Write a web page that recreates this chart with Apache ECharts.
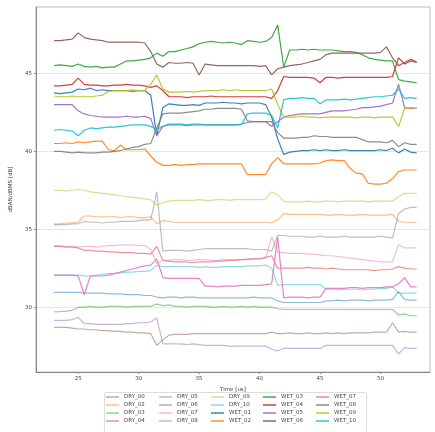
<!DOCTYPE html>
<html><head><meta charset="utf-8">
<script src="https://cdn.jsdelivr.net/npm/echarts@6/dist/echarts.min.js"></script>
<style>html,body{margin:0;padding:0;background:#fff}#c{width:435px;height:432px}</style>
</head><body><div id="c"></div>
<script>
const times = [23,23.5,24,24.5,25,25.5,26,26.5,27,27.5,28,28.5,29,29.5,30,30.5,31,31.5,32,32.5,33,33.5,34,34.5,35,35.5,36,36.5,37,37.5,38,38.5,39,39.5,40,40.5,41,41.5,42,42.5,43,43.5,44,44.5,45,45.5,46,46.5,47,47.5,48,48.5,49,49.5,50,50.5,51,51.5,52,52.5,53];

const DRY_00 = [30.95,30.95,30.95,30.95,30.95,30.9,30.9,30.9,30.9,30.85, 30.85,30.85,30.8,30.8,30.8,30.75,30.75,30.65,30.6,30.65, 30.65,30.6,30.65,30.65,30.6,30.6,30.6,30.6,30.6,30.6, 30.6,30.6,30.6,30.65,30.6,30.6,30.6,30.4,30.3,30.3, 30.3,30.3,30.3,30.3,30.3,30.4,30.4,30.45,30.4,30.45, 30.45,30.45,30.4,30.45,30.45,30.45,30.5,31.0,30.5,30.45, 30.45];
const DRY_02 = [35.35,35.35,35.4,35.4,35.45,35.85,35.85,35.8,35.8,35.8, 35.8,35.75,35.8,35.8,35.75,35.75,35.8,35.35,35.55,35.5, 35.45,35.45,35.45,35.45,35.45,35.45,35.45,35.45,35.45,35.45, 35.45,35.45,35.45,35.45,35.45,35.45,35.4,35.6,36.0,35.95, 35.95,35.95,35.95,35.95,35.95,35.9,35.9,35.95,35.9,35.9, 35.9,35.95,35.9,35.9,35.9,35.9,35.95,35.5,35.45,35.45, 35.45];
const DRY_03 = [29.7,29.72,29.75,29.8,30.0,30.0,30.05,30.0,30.0,30.05, 30.05,30.05,30.0,30.05,30.05,30.05,30.05,30.2,30.1,30.15, 30.05,30.05,30.0,30.05,30.05,30.05,30.0,30.0,30.05,30.0, 30.0,30.05,30.0,30.05,30.0,30.0,30.0,29.9,29.85,29.85, 29.85,29.85,29.85,29.85,29.85,29.85,29.85,29.85,29.85,29.85, 29.85,29.85,29.85,29.85,29.85,29.85,29.85,29.5,29.55,29.45, 29.45];
const DRY_04 = [33.9,33.9,33.85,33.85,33.8,33.65,33.65,33.6,33.6,33.55, 33.55,33.5,33.5,33.5,33.45,33.45,33.4,33.9,33.0,32.95, 32.9,32.9,32.9,32.85,32.9,32.9,32.9,32.95,32.95,33.0, 33.0,33.05,33.05,33.1,33.1,33.2,33.3,32.5,32.5,32.5, 32.5,32.5,32.55,32.5,32.5,32.45,32.5,32.45,32.4,32.4, 32.4,32.4,32.4,32.35,32.4,32.4,32.45,32.6,32.5,32.45, 32.45];
const DRY_05 = [29.15,29.15,29.15,29.2,29.35,28.95,28.95,28.9,28.9,28.9, 28.9,28.9,28.95,28.95,29.0,29.0,29.05,29.3,27.65,27.65, 27.65,27.65,27.6,27.65,27.6,27.55,27.55,27.55,27.55,27.5, 27.5,27.5,27.5,27.5,27.5,27.5,27.3,27.2,27.35,27.35, 27.35,27.35,27.35,27.35,27.35,27.55,27.55,27.55,27.55,27.55, 27.55,27.55,27.55,27.55,27.55,27.55,27.55,27.0,27.4,27.35, 27.35];
const DRY_06 = [28.7,28.7,28.7,28.65,28.6,28.6,28.55,28.55,28.5,28.5, 28.45,28.45,28.4,28.4,28.35,28.35,28.3,27.55,27.9,28.2, 28.25,28.25,28.25,28.3,28.3,28.3,28.3,28.3,28.3,28.3, 28.3,28.3,28.3,28.3,28.3,28.3,28.4,28.3,28.3,28.35, 28.3,28.3,28.35,28.3,28.3,28.35,28.3,28.35,28.3,28.35, 28.35,28.35,28.35,28.4,28.4,28.4,29.0,28.4,28.45,28.4, 28.4];
const DRY_07 = [33.95,33.95,33.9,33.9,33.85,33.9,33.9,33.85,33.9,33.95, 33.95,34.0,34.0,34.0,33.95,33.95,33.7,32.8,33.0,33.0, 33.05,33.05,33.0,33.0,33.05,33.05,33.0,33.0,33.05,33.05, 33.05,33.05,33.1,33.1,33.1,33.15,34.5,33.5,33.5,33.45, 33.45,33.45,33.4,33.4,33.35,33.3,33.3,33.25,33.2,33.15, 33.1,33.05,33.0,32.95,32.9,32.9,32.9,34.0,33.8,33.8, 33.8];
const DRY_08 = [35.3,35.3,35.3,35.35,35.35,35.5,35.45,35.45,35.4,35.45, 35.45,35.5,35.5,35.5,35.55,35.6,35.6,37.4,33.6,33.65, 33.65,33.65,33.6,33.65,33.7,33.75,33.75,33.75,33.75,33.75, 33.75,33.75,33.75,33.7,33.7,33.7,33.6,34.6,34.6,34.55, 34.55,34.55,34.5,34.5,34.55,34.5,34.5,34.5,34.55,34.5, 34.5,34.5,34.5,34.5,34.55,34.5,34.45,36.0,36.3,36.4, 36.4];
const DRY_09 = [37.5,37.5,37.45,37.5,37.55,37.5,37.4,37.35,37.3,37.25, 37.2,37.15,37.1,37.05,37.0,36.95,36.9,36.55,36.7,36.8, 36.85,36.85,36.85,36.85,36.9,36.85,36.85,36.9,36.9,36.85, 36.9,36.9,36.9,36.9,36.9,36.95,37.4,37.2,36.8,36.75, 36.75,36.75,36.8,36.75,36.75,36.8,36.8,36.75,36.8,36.8, 36.8,36.8,36.75,36.8,36.8,36.8,36.8,37.1,37.3,37.3, 37.3];
const DRY_10 = [32.05,32.05,32.05,32.05,32.05,32.0,32.0,32.05,32.1,32.15, 32.15,32.2,32.25,32.25,32.3,32.3,32.35,32.7,32.6,32.6, 32.6,32.6,32.6,32.6,32.55,32.6,32.55,32.55,32.6,32.6, 32.6,32.6,32.65,32.65,32.65,32.7,32.5,31.4,31.45,31.45, 31.45,31.45,31.45,31.45,31.45,31.15,31.15,31.1,31.15,31.15, 31.15,31.1,31.15,31.15,31.2,31.2,31.3,30.9,30.9,30.9, 30.9];
const WET_01 = [43.75,43.7,43.75,43.8,44.0,43.95,44.05,43.9,43.95,43.9, 43.9,43.9,43.9,43.85,43.9,43.9,43.6,41.0,42.8,43.05, 43.0,42.95,42.95,43.0,42.95,43.1,43.1,43.1,43.15,43.1, 43.1,43.05,43.1,43.1,43.1,43.0,42.2,40.8,39.8,39.95, 40.0,40.05,40.05,40.1,40.05,40.1,40.05,40.05,40.1,40.05, 40.05,40.05,40.05,40.05,40.1,40.05,40.2,39.9,40.15,39.95, 39.9];
const WET_02 = [40.5,40.5,40.55,40.5,40.6,40.55,40.6,40.65,40.65,40.1, 40.05,40.4,40.1,40.1,40.1,40.15,39.7,39.3,39.1,39.1, 39.15,39.1,39.15,39.15,39.2,39.2,39.2,39.2,39.2,39.2, 39.2,39.2,38.5,38.5,38.5,38.5,39.2,39.6,39.2,39.2, 39.2,39.2,39.2,39.2,39.25,39.4,39.45,39.4,39.4,38.9, 38.6,38.55,37.95,37.9,37.9,37.95,38.25,38.7,38.8,38.8, 38.8];
const WET_03 = [45.5,45.55,45.5,45.45,45.6,45.45,45.4,45.45,45.35,45.4, 45.4,45.6,45.8,45.8,45.85,45.9,46.0,46.3,46.1,46.4, 46.4,46.5,46.6,46.7,46.9,47.0,47.05,47.0,46.95,47.0, 46.95,46.85,47.1,47.05,47.0,47.05,47.3,48.1,45.4,46.5, 46.5,46.55,46.5,46.55,46.5,46.5,46.5,46.45,46.4,46.4, 46.35,46.2,46.0,45.9,45.85,45.8,45.8,44.6,44.5,44.45, 44.4];
const WET_04 = [44.2,44.2,44.25,44.3,44.7,44.3,44.25,44.25,44.2,44.2, 44.25,44.25,44.3,44.25,44.25,44.2,44.1,44.2,43.9,43.5, 43.5,43.5,43.45,43.5,43.5,43.5,43.55,43.5,43.5,43.5, 43.5,43.5,43.5,43.5,43.5,43.5,43.4,43.9,44.8,44.75, 44.75,44.75,44.75,44.7,44.4,44.75,44.75,44.7,44.75,44.75, 44.75,44.75,44.75,44.75,44.75,44.75,44.8,46.0,45.6,45.8, 45.7];
const WET_05 = [43.0,43.0,43.0,43.0,42.6,42.4,42.3,42.25,42.2,42.2, 42.2,42.2,42.25,42.2,42.2,42.25,42.1,41.0,41.6,41.7, 41.7,41.7,41.65,41.7,41.7,41.7,41.7,41.7,41.7,41.7, 41.7,41.75,41.85,41.9,41.9,41.9,41.6,41.9,42.2,42.3, 42.35,42.4,42.4,42.4,42.4,42.5,42.6,42.6,42.6,42.65, 42.7,42.8,42.8,42.85,42.9,43.0,43.1,44.3,42.8,42.75, 42.75];
const WET_06 = [47.1,47.1,47.15,47.2,47.6,47.3,47.2,47.15,47.1,47.0, 47.0,47.0,47.0,47.0,47.0,46.95,46.4,45.6,45.4,45.7, 45.65,45.65,45.7,45.65,44.9,45.6,45.55,45.5,45.5,45.5, 45.5,45.5,45.5,45.5,45.45,45.5,44.9,45.3,45.4,45.5, 45.55,45.6,45.7,45.8,45.9,46.2,46.3,46.3,46.3,46.3, 46.3,46.3,46.3,46.3,46.35,46.7,46.0,45.5,45.7,45.9, 45.75];
const WET_07 = [32.05,32.05,32.05,32.05,32.0,30.8,32.0,32.0,32.0,32.05, 32.15,32.25,32.35,32.45,32.55,32.65,32.7,33.1,31.9,31.85, 31.85,31.85,31.85,31.85,31.85,31.35,31.35,31.3,31.35,31.35, 31.35,31.4,31.4,31.4,31.4,31.45,31.5,34.5,30.6,30.65, 30.65,30.65,30.6,30.65,30.65,31.2,31.2,31.2,31.2,31.25, 31.25,31.2,31.25,31.25,31.25,31.3,31.3,31.5,31.9,31.3, 31.3];
const WET_08 = [40.0,40.0,39.95,39.9,39.95,39.9,39.9,39.9,39.95,39.95, 40.0,40.05,40.15,40.25,40.3,40.45,40.5,41.5,42.4,42.45, 42.45,42.45,42.5,42.55,42.6,42.7,42.7,42.75,42.75,42.75, 42.75,42.7,41.95,41.9,41.9,41.9,41.9,41.2,40.85,40.85, 40.85,40.9,40.9,41.0,40.95,40.95,40.9,40.9,40.9,40.9, 40.9,40.75,40.6,40.6,40.6,40.55,40.7,40.3,40.55,40.45, 40.45];
const WET_09 = [43.55,43.5,43.5,43.55,43.5,43.5,43.5,43.55,43.6,43.85, 43.9,43.9,43.9,43.95,43.9,43.9,44.3,44.9,44.0,43.8, 43.8,43.8,43.85,43.8,43.85,43.9,43.9,43.9,43.95,43.9, 43.95,43.9,43.9,43.9,43.9,43.9,44.0,43.0,42.2,42.2, 42.2,42.25,42.2,42.2,42.15,42.2,42.2,42.2,42.2,42.2, 42.15,42.2,42.2,42.15,42.2,42.2,42.2,41.6,42.75,42.8, 42.75];
const WET_10 = [41.35,41.4,41.35,41.3,41.0,41.35,41.5,41.45,41.5,41.55, 41.55,41.6,41.65,41.7,41.7,41.7,41.6,41.4,41.6,41.75, 41.75,41.75,41.7,41.75,41.75,41.7,41.7,41.7,41.7,41.7, 41.7,41.7,42.4,42.45,42.45,42.45,42.3,41.5,43.3,43.4, 43.4,43.45,43.4,43.4,43.05,43.3,43.3,43.3,43.35,43.3, 43.35,43.4,43.45,43.5,43.5,43.55,43.6,44.0,43.4,43.45, 43.4];

const seriesNames = ['DRY_00','DRY_02','DRY_03','DRY_04','DRY_05','DRY_06','DRY_07','DRY_08','DRY_09','DRY_10','WET_01','WET_02','WET_03','WET_04','WET_05','WET_06','WET_07','WET_08','WET_09','WET_10'];
const seriesValues = [DRY_00,DRY_02,DRY_03,DRY_04,DRY_05,DRY_06,DRY_07,DRY_08,DRY_09,DRY_10,WET_01,WET_02,WET_03,WET_04,WET_05,WET_06,WET_07,WET_08,WET_09,WET_10];
const legendColumns = [
  ['DRY_00','DRY_02','DRY_03','DRY_04'],
  ['DRY_05','DRY_06','DRY_07','DRY_08'],
  ['DRY_09','DRY_10','WET_01','WET_02'],
  ['WET_03','WET_04','WET_05','WET_06'],
  ['WET_07','WET_08','WET_09','WET_10']
];
const xTicks = [25,30,35,40,45,50];
const yTicks = [30,35,40,45];
const xTitle = 'Time [us]';
const yTitle = 'dBAN/dBMS [dB]';

const palette = ['#1f77b4','#ff7f0e','#2ca02c','#d62728','#9467bd','#8c564b','#e377c2','#7f7f7f','#bcbd22','#17becf'];
const FONT = 'DejaVu Sans';

const chart = echarts.init(document.getElementById('c'), null, {renderer:'canvas'});
const series = seriesNames.map((n, k) => {
  const dry = n.startsWith('DRY');
  const col = palette[k % 10];
  return {
    name: n, type: 'line', showSymbol: false, symbol: 'none', animation: false,
    data: times.map((t, i) => [t, seriesValues[k][i]]),
    lineStyle: {width: 1.2, color: col, opacity: dry ? 0.5 : 0.9},
    itemStyle: {color: col, opacity: dry ? 0.5 : 0.9},
    emphasis: {disabled: true}
  };
});
const colLeft = [106, 159, 211, 263, 316];
const legends = legendColumns.map((c, j) => ({
  data: c, orient: 'vertical', left: colLeft[j], top: 394, padding: 0,
  itemWidth: 13, itemHeight: 1.5, itemGap: 2, icon: 'rect', selectedMode: false,
  textStyle: {fontSize: 5.5, lineHeight: 6, color: '#444', fontFamily: FONT}
}));
chart.setOption({
  animation: false,
  backgroundColor: '#fff',
  color: palette,
  grid: {left: 29, right: 5, top: 7, bottom: 60, show: true, borderColor: '#bbb', borderWidth: 1},
  legend: legends,
  graphic: [{type: 'rect', left: 102, top: 390, shape: {width: 262, height: 40, r: 2}, style: {fill: 'none', stroke: '#ddd', lineWidth: 1}}],
  xAxis: {
    type: 'value', min: 21.5, max: 54.1,
    name: xTitle, nameLocation: 'middle', nameGap: 12,
    nameTextStyle: {fontSize: 5.5, color: '#444', fontFamily: FONT},
    axisLine: {show: true, onZero: false, lineStyle: {color: '#888', width: 1}},
    axisTick: {show: true, length: 2, customValues: xTicks, lineStyle: {color: '#888'}},
    axisLabel: {customValues: xTicks, fontSize: 5.5, color: '#444', margin: 4, fontFamily: FONT},
    splitLine: {show: false}
  },
  yAxis: {
    type: 'value', min: 25.84, max: 49.26,
    name: yTitle, nameLocation: 'middle', nameGap: 17, nameRotate: 90,
    nameTextStyle: {fontSize: 5.5, color: '#444', fontFamily: FONT},
    axisLine: {show: true, onZero: false, lineStyle: {color: '#888', width: 1}},
    axisTick: {show: true, length: 2, customValues: yTicks, lineStyle: {color: '#888'}},
    axisLabel: {customValues: yTicks, fontSize: 5.5, color: '#444', margin: 4, fontFamily: FONT},
    splitLine: {show: true, lineStyle: {color: '#e6e6e6', width: 1}}
  },
  series: series
});
</script>
</body></html>
